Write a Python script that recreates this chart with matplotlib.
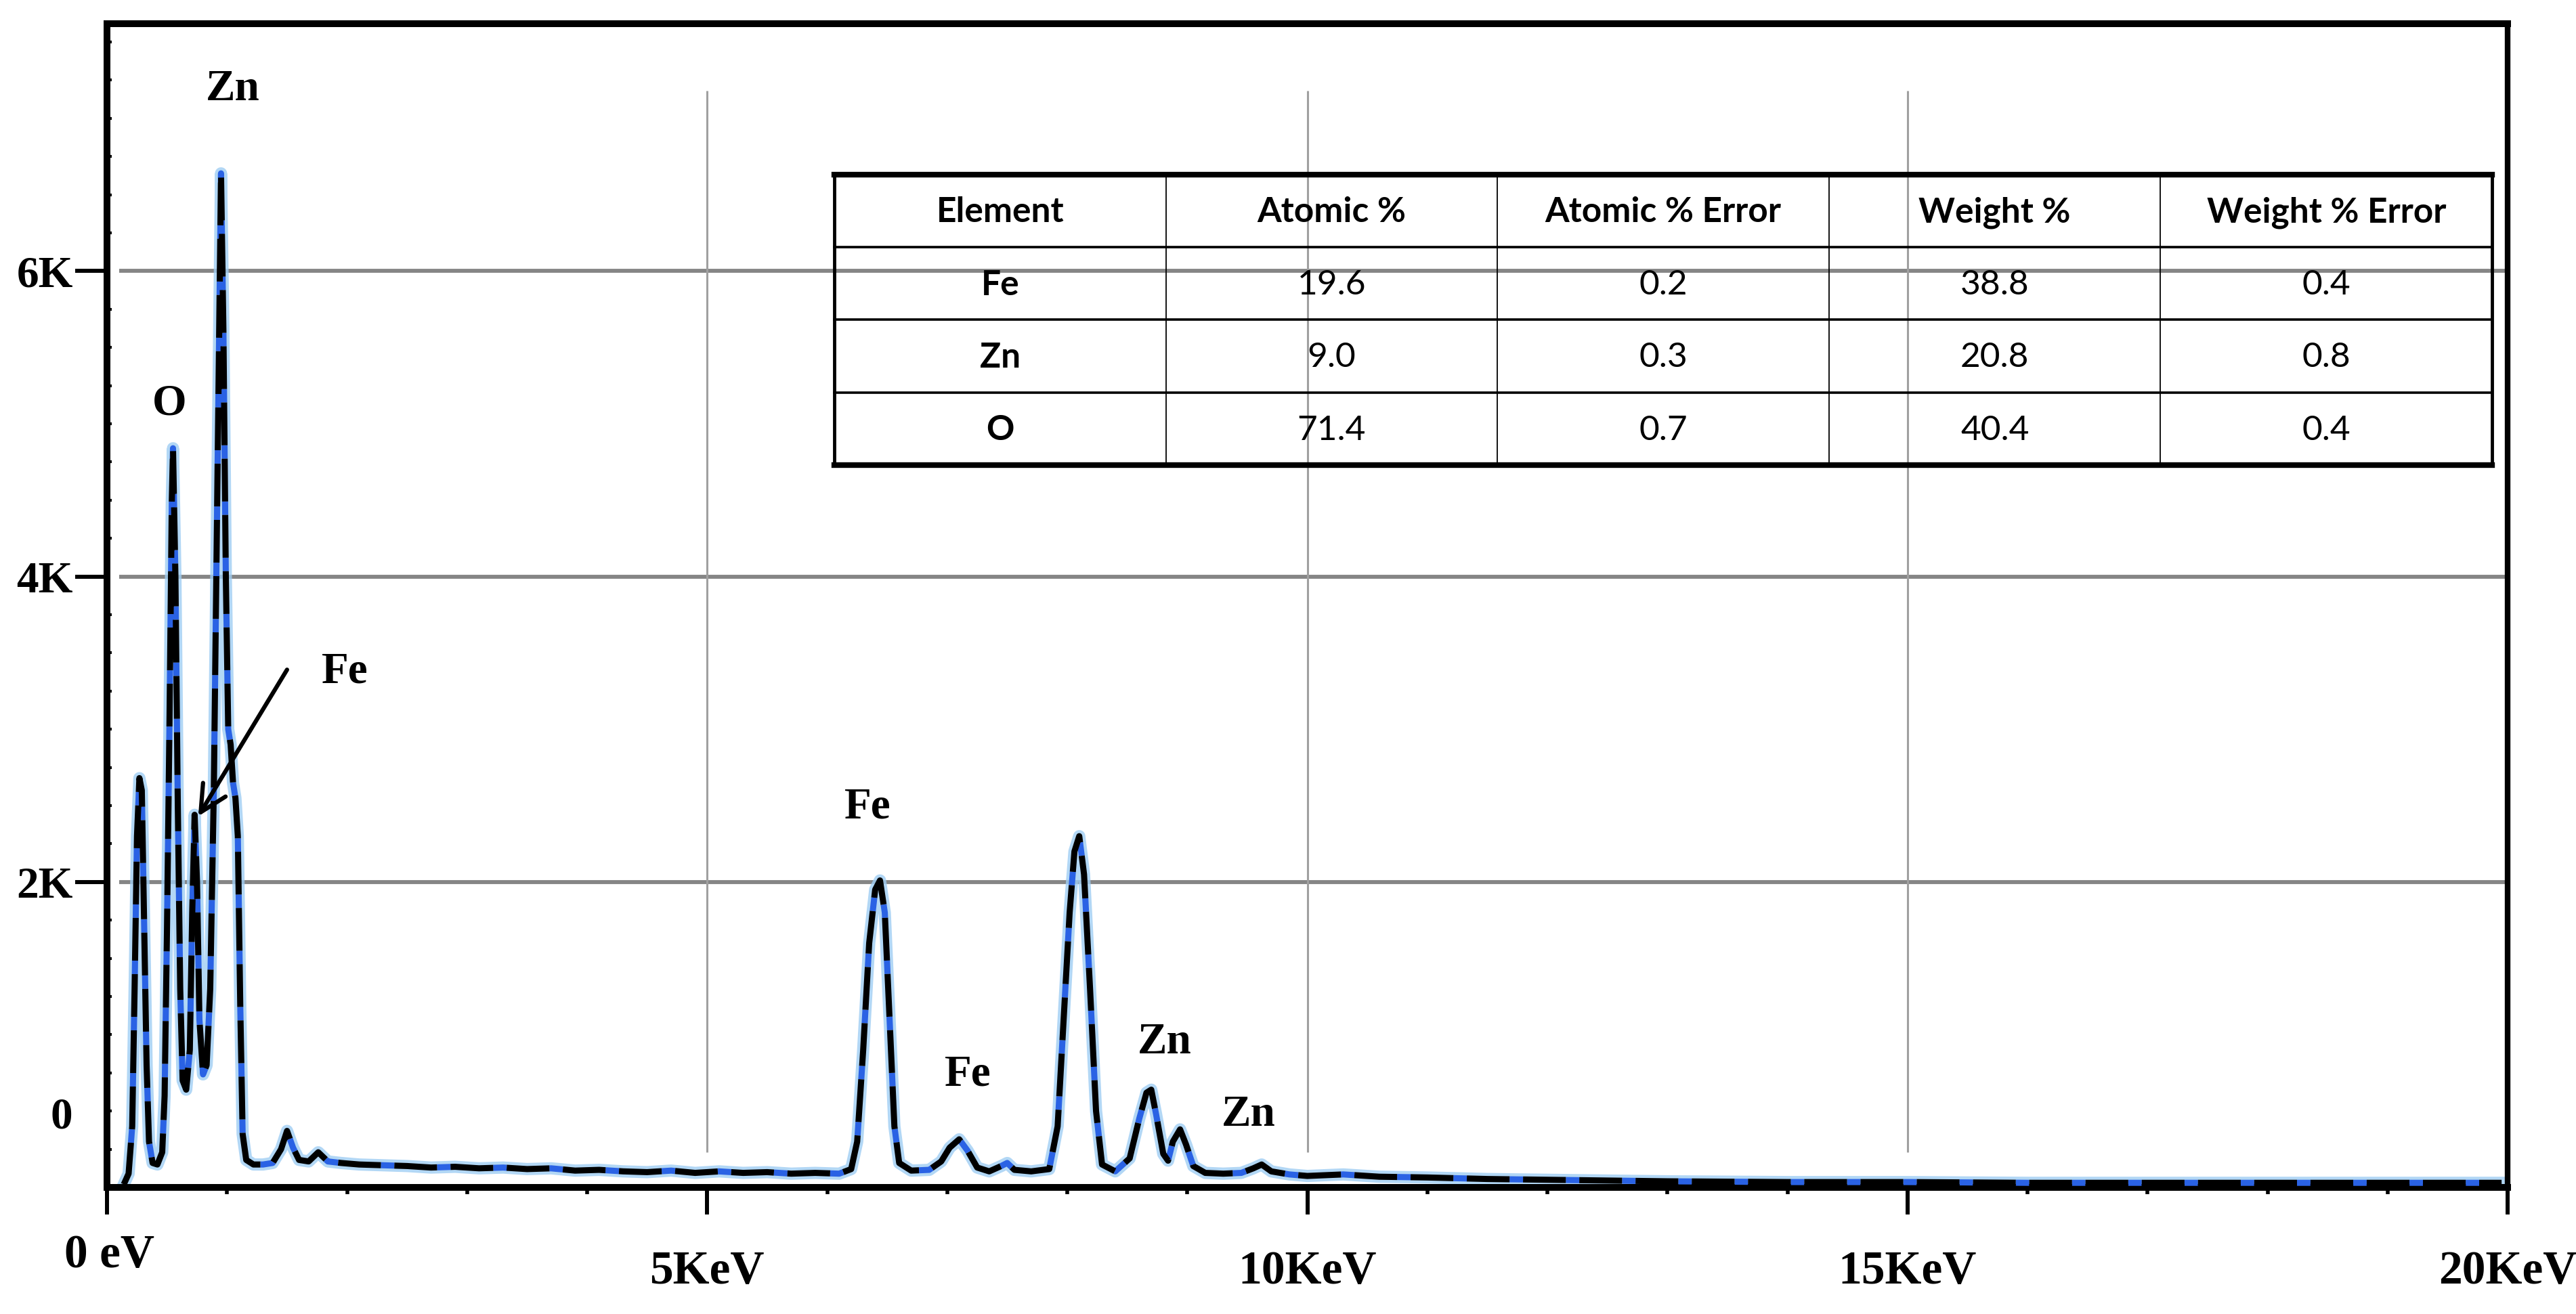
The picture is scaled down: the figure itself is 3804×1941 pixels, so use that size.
import matplotlib
matplotlib.use('Agg')
import matplotlib.pyplot as plt
from matplotlib.ticker import MultipleLocator
import matplotlib.transforms as mtransforms

# ---------------- data ----------------
energy_kev = [0.14, 0.18, 0.21, 0.23, 0.25, 0.27, 0.29, 0.31, 0.33, 0.35, 0.38, 0.42,
              0.46, 0.48, 0.50, 0.52, 0.54, 0.55, 0.57, 0.59, 0.61, 0.63, 0.66, 0.69,
              0.71, 0.73, 0.75, 0.77, 0.80, 0.83, 0.86, 0.89, 0.92, 0.95, 0.97, 0.99,
              1.01, 1.03, 1.05, 1.07, 1.09, 1.11, 1.13, 1.16, 1.22, 1.30, 1.38, 1.45,
              1.50, 1.55, 1.60, 1.68, 1.76, 1.84, 1.95, 2.10, 2.30, 2.50, 2.70, 2.90,
              3.10, 3.30, 3.50, 3.70, 3.90, 4.10, 4.30, 4.50, 4.70, 4.90, 5.10, 5.30,
              5.50, 5.70, 5.90, 6.10, 6.20, 6.25, 6.30, 6.35, 6.40, 6.44, 6.48, 6.52,
              6.56, 6.60, 6.70, 6.85, 6.95, 7.02, 7.10, 7.17, 7.25, 7.35, 7.45, 7.50,
              7.56, 7.70, 7.85, 7.92, 7.97, 8.02, 8.06, 8.10, 8.14, 8.19, 8.24, 8.29,
              8.40, 8.52, 8.60, 8.66, 8.70, 8.74, 8.80, 8.84, 8.88, 8.94, 8.99, 9.05,
              9.15, 9.30, 9.45, 9.55, 9.62, 9.70, 9.85, 10.0, 10.3, 10.6, 11.0, 11.5,
              12.0, 13.0, 14.0, 15.0, 16.0, 17.0, 18.0, 19.0, 19.95]
counts = [20, 90, 400, 1300, 2300, 2680, 2600, 1700, 800, 300, 160, 150,
          230, 600, 1700, 3000, 4500, 4840, 4000, 2500, 1300, 700, 640, 900,
          1800, 2440, 2000, 1100, 740, 800, 1300, 2600, 4600, 6640, 5600, 4000,
          3000, 2900, 2650, 2550, 2300, 1200, 350, 180, 150, 150, 160, 250,
          370, 260, 180, 170, 230, 170, 160, 150, 145, 140, 130, 135,
          125, 130, 120, 125, 110, 115, 105, 100, 110, 95, 105, 95,
          100, 90, 95, 90, 120, 300, 900, 1600, 1950, 2010, 1800, 1100,
          400, 160, 110, 115, 170, 260, 315, 240, 130, 105, 140, 160,
          115, 105, 120, 400, 1100, 1800, 2200, 2300, 2050, 1300, 500, 150,
          105, 190, 450, 620, 640, 480, 220, 175, 300, 380, 280, 140,
          95, 90, 95, 125, 150, 105, 85, 75, 85, 70, 65, 55,
          50, 40, 35, 35, 30, 30, 30, 30, 30]

x_major_ticks = [0, 5, 10, 15, 20]
x_tick_labels = ['', '5KeV', '10KeV', '15KeV', '20KeV']
zero_x_label = '0 eV'
y_major_ticks = [2000, 4000, 6000]
y_tick_labels = ['2K', '4K', '6K']
zero_y_label = '0'

peak_labels = ['Zn', 'O', 'Fe', 'Fe', 'Fe', 'Zn', 'Zn']
peak_label_kev = [1.05, 0.52, 1.98, 6.34, 7.17, 8.81, 9.51]
peak_label_counts = [7190, 5130, 3375, 2490, 740, 950, 475]

table_columns = ['Element', 'Atomic %', 'Atomic % Error', 'Weight %', 'Weight % Error']
table_elements = ['Fe', 'Zn', 'O']
atomic_pct = ['19.6', '9.0', '71.4']
atomic_err = ['0.2', '0.3', '0.7']
weight_pct = ['38.8', '20.8', '40.4']
weight_err = ['0.4', '0.8', '0.4']

# ---------------- figure ----------------
W, H = 3805, 1941
fig = plt.figure(figsize=(W / 100, H / 100), dpi=100)
fig.patch.set_facecolor('white')
ax = fig.add_axes([158 / W, 1 - 1754 / H, (3703 - 158) / W, (1754 - 35) / H])
ax.set_xlim(0, 20)
ax.set_ylim(0, 7620)

serif_bold = dict(fontfamily='Liberation Serif', fontweight='bold')

# grid
for yv in y_major_ticks:
    ax.hlines(yv, 0.1, 20, color='#858585', lw=4.2, zorder=1)
for xv in x_major_ticks[1:-1]:
    ax.vlines(xv, 230, 7180, color='#a0a0a0', lw=2.2, zorder=1)

# spectrum
ax.plot(energy_kev, counts, color='#9fcdf3', lw=13, alpha=0.8,
        solid_joinstyle='round', zorder=2)
ax.plot(energy_kev, counts, color='black', lw=6.5, linestyle=(0, (7, 2.2)),
        gapcolor='#2a62e4', zorder=3)

# peak labels
for lab, xk, yc in zip(peak_labels, peak_label_kev, peak_label_counts):
    ax.text(xk, yc, lab, ha='center', va='center', fontsize=47, zorder=5, **serif_bold)

ax.annotate('', xy=(0.76, 2430), xytext=(1.50, 3390),
            arrowprops=dict(arrowstyle='->', lw=4.5, color='black',
                            mutation_scale=70, shrinkA=0, shrinkB=0), zorder=6)

# ticks
ax.set_xticks(x_major_ticks)
ax.set_xticklabels(x_tick_labels, fontsize=50, **serif_bold)
ax.xaxis.set_minor_locator(MultipleLocator(1))
ax.tick_params(axis='x', which='major', direction='out', length=29, width=4.3, pad=38)
ax.tick_params(axis='x', which='minor', direction='out', length=7, width=4)
ax.set_yticks(y_major_ticks)
ax.set_yticklabels(y_tick_labels, fontsize=47, **serif_bold)
ax.tick_params(axis='y', which='major', direction='out', length=34, width=4.3, pad=2)
ax.yaxis.set_minor_locator(MultipleLocator(250))
ax.tick_params(axis='y', which='minor', direction='in', length=5, width=3)

ax.text(0.02, -0.040, zero_x_label,
        transform=mtransforms.blended_transform_factory(ax.transData, ax.transAxes),
        ha='center', va='top', fontsize=50, **serif_bold)
ax.text(-0.019, 460, zero_y_label,
        transform=mtransforms.blended_transform_factory(ax.transAxes, ax.transData),
        ha='center', va='center', fontsize=47, **serif_bold)

for side in ['left', 'top', 'bottom']:
    ax.spines[side].set_linewidth(7.2)
ax.spines['right'].set_linewidth(6)

# ---------------- table ----------------
tax = fig.add_axes([1232 / W, 1 - 687 / H, (3680 - 1232) / W, (687 - 258) / H])
tax.set_xlim(0, 5)
tax.set_ylim(4, 0)
tax.axis('off')
rows = [table_columns] + [list(r) for r in zip(table_elements, atomic_pct, atomic_err,
                                                 weight_pct, weight_err)]
for i, row in enumerate(rows):
    for j, val in enumerate(row):
        bold = (i == 0 or j == 0)
        tax.text(j + 0.5, i + 0.52, val, ha='center', va='center', fontfamily='Lato',
                 fontweight='bold' if bold else 'normal', fontsize=37)
tax.axhline(0, color='black', lw=6, clip_on=False)
tax.axhline(4, color='black', lw=6, clip_on=False)
for r in range(1, len(rows)):
    tax.axhline(r, color='black', lw=2.6, clip_on=False)
tax.axvline(0, color='black', lw=3.5, clip_on=False)
tax.axvline(5, color='black', lw=3.5, clip_on=False)
for c in range(1, len(table_columns)):
    tax.axvline(c, color='black', lw=1.3, clip_on=False)

fig.savefig('out.png', dpi=100, facecolor='white')
